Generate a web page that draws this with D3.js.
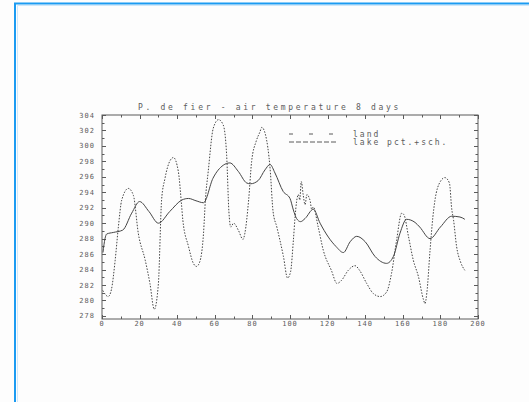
<!DOCTYPE html>
<html>
<head>
<meta charset="utf-8">
<script src="https://cdn.jsdelivr.net/npm/d3@7"></script>
<style>
  html, body { margin: 0; padding: 0; background: #fdfdfd; }
  svg { display: block; }
  text { font-family: "DejaVu Sans Mono", "Liberation Mono", monospace; fill: #5c5c5c; }
</style>
</head>
<body>
<svg id="chart" width="529" height="402"></svg>
<script>
// Daily air temperature (K), 8-day smoothing
const titleText = "P. de fier - air temperature 8 days";

const landDays = [0.5, 1.6, 2.5, 6, 11, 15.8, 20, 25, 30, 36, 42.5, 46, 50, 54, 59, 64.5, 68, 72.5, 77, 79, 83, 86.7, 89.4, 92, 96.4, 100, 101.8, 103.5, 105.6, 108, 112.4, 116, 120.4, 124.4, 128.4, 132, 135.5, 140, 145.2, 151.4, 155, 158.5, 162, 166.5, 169, 174.5, 180, 186, 190.4, 193];
const landTemps = [286.2, 288.0, 288.6, 288.8, 289.1, 291.3, 292.8, 291.5, 290.0, 291.5, 293.0, 293.2, 292.9, 292.65, 295.8, 297.5, 297.8, 296.7, 295.2, 295.1, 295.5, 296.9, 297.6, 296.5, 294.1, 293.2, 291.7, 290.6, 290.2, 290.6, 291.8, 290.0, 288.2, 287.0, 286.2, 287.6, 288.3, 287.6, 285.7, 284.8, 285.7, 288.7, 290.5, 290.1, 289.5, 288.0, 289.5, 290.9, 290.8, 290.5];

const lakeDays = [0.4, 3.3, 5, 7, 8.7, 10.5, 14, 16.7, 19.3, 23, 25.5, 27.8, 30, 31.7, 33.5, 36, 38, 40.6, 42.3, 43, 46, 48.6, 50.3, 52, 54, 55, 56.5, 59.2, 62, 64.5, 66.3, 67.5, 68.5, 70, 72.5, 75, 76, 78, 79.6, 82, 84, 85, 87, 89.4, 91, 93, 96.5, 98.7, 100.3, 101.8, 102.7, 103.5, 104.5, 105.2, 106, 107, 108, 109, 110, 110.8, 111.5, 112.4, 115, 117.7, 122, 125, 127.4, 131, 134.6, 137, 140.8, 144.3, 148, 151.4, 154, 156.7, 159.4, 160.6, 163, 165.6, 168.3, 171, 171.8, 172.8, 174.5, 176, 177, 180, 182.4, 184.8, 186, 187, 188.6, 190.7, 193];
const lakeTemps = [281.3, 280.5, 281.4, 285.2, 289.5, 293.0, 294.5, 293.6, 288.7, 285.2, 282.2, 278.85, 282.2, 293.0, 295.8, 298.0, 298.5, 296.7, 292.4, 290.4, 287.0, 284.8, 284.4, 285.0, 288.7, 293.0, 296.7, 302.3, 303.4, 302.7, 298.8, 291.5, 289.5, 290.0, 289.1, 287.9, 288.7, 293.0, 298.0, 300.6, 301.8, 302.4, 301.4, 297.1, 291.5, 289.5, 285.7, 282.9, 283.7, 287.8, 290.8, 292.8, 293.7, 293.0, 295.4, 293.7, 292.4, 293.7, 293.4, 292.8, 291.8, 292.1, 289.5, 286.5, 283.9, 282.2, 282.6, 283.9, 284.5, 283.9, 282.2, 280.9, 280.5, 281.1, 283.5, 287.8, 291.3, 291.1, 288.3, 285.2, 283.1, 280.1, 279.6, 281.0, 286.5, 290.8, 292.8, 295.4, 295.9, 295.2, 291.9, 290.4, 287.0, 285.0, 283.9];

const xTickLabels = [0, 20, 40, 60, 80, 100, 120, 140, 160, 180, 200];
const yTickLabels = [278, 280, 282, 284, 286, 288, 290, 292, 294, 296, 298, 300, 302, 304];
const legendLabels = ["land", "lake pct.+sch."];

const svg = d3.select("#chart");

// Page frame
svg.append("path")
  .attr("d", "M15,402 V3.5 H529")
  .attr("fill", "none")
  .attr("stroke", "#1b9bf2")
  .attr("stroke-width", 2);
svg.append("path")
  .attr("d", "M17.5,402 V5.5 H529")
  .attr("fill", "none")
  .attr("stroke", "#cfe7fa")
  .attr("stroke-width", 1);

const x = d3.scaleLinear().domain([0, 200]).range([102, 478]);
const y = d3.scaleLinear().domain([277.6, 304]).range([319, 115]);

const axisColor = "#5a5a5a";
const g = svg.append("g");

// Plot box
g.append("rect")
  .attr("x", x(0)).attr("y", y(304))
  .attr("width", x(200) - x(0)).attr("height", y(277.6) - y(304))
  .attr("fill", "none").attr("stroke", axisColor).attr("stroke-width", 1);

// Inward ticks along all four sides
const xTicks = d3.range(0, 201, 10);
const yTicks = d3.range(278, 305, 1);
g.selectAll(".xt").data(xTicks).join("path")
  .attr("d", d => {
    const len = d % 20 === 0 ? 4 : 2.5;
    const px = Math.round(x(d)) + 0.5;
    return `M${px},${y(277.6)} v${-len} M${px},${y(304)} v${len}`;
  })
  .attr("stroke", axisColor).attr("stroke-width", 1);
g.selectAll(".yt").data(yTicks).join("path")
  .attr("d", d => {
    const len = d % 2 === 0 ? 4 : 2.5;
    const py = Math.round(y(d)) + 0.5;
    return `M${x(0)},${py} h${len} M${x(200)},${py} h${-len}`;
  })
  .attr("stroke", axisColor).attr("stroke-width", 1);

// Tick labels
g.selectAll(".xl").data(xTickLabels).join("text")
  .attr("x", d => x(d)).attr("y", 326)
  .attr("text-anchor", "middle")
  .attr("font-size", 7).attr("letter-spacing", 1)
  .text(d => d);
g.selectAll(".yl").data(yTickLabels).join("text")
  .attr("x", 95).attr("y", d => y(d) + 2.5)
  .attr("text-anchor", "end")
  .attr("font-size", 7).attr("letter-spacing", 1)
  .text(d => d);

// Title
svg.append("text")
  .attr("x", 138).attr("y", 110)
  .attr("font-size", 8).attr("letter-spacing", 2.7)
  .text(titleText);

// Series
const line = d3.line()
  .x(d => x(d[0]))
  .y(d => y(d[1]))
  .curve(d3.curveMonotoneX);

const landSeries = d3.zip(landDays, landTemps);
const lakeSeries = d3.zip(lakeDays, lakeTemps);

g.append("path")
  .datum(lakeSeries)
  .attr("d", line)
  .attr("fill", "none")
  .attr("stroke", "#444")
  .attr("stroke-width", 1)
  .attr("stroke-dasharray", "1.5,1.5");

g.append("path")
  .datum(landSeries)
  .attr("d", line)
  .attr("fill", "none")
  .attr("stroke", "#444")
  .attr("stroke-width", 1);

// Legend
const legend = svg.append("g");
const legendDash = ["4,16", "5,2"];
legendLabels.forEach((lab, i) => {
  const ly = 134 + i * 8;
  legend.append("line")
    .attr("x1", 289).attr("x2", 337)
    .attr("y1", ly).attr("y2", ly)
    .attr("stroke", "#5a5a5a").attr("stroke-width", 1)
    .attr("stroke-dasharray", legendDash[i]);
  legend.append("text")
    .attr("x", 353).attr("y", ly + 2.5)
    .attr("font-size", 8).attr("letter-spacing", 2)
    .text(lab);
});
</script>
</body>
</html>
